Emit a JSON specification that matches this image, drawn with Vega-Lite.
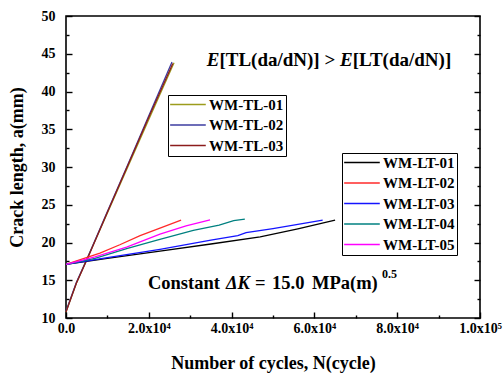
{
  "$schema": "https://vega.github.io/schema/vega-lite/v6.json",
  "width": 414,
  "height": 302,
  "autosize": {"type": "none"},
  "padding": {"left": 66, "top": 16, "right": 23, "bottom": 56},
  "background": "white",
  "config": {
    "view": {"stroke": "black", "strokeWidth": 1.6},
    "axis": {
      "grid": false,
      "domain": false,
      "labelFont": "Liberation Serif",
      "labelFontWeight": "bold",
      "labelFontSize": 14,
      "labelColor": "black",
      "titleFont": "Liberation Serif",
      "titleFontWeight": "bold",
      "titleFontSize": 18,
      "titleColor": "black",
      "tickColor": "black",
      "tickWidth": 1.4,
      "labelFlush": false,
      "labelOverlap": false
    },
    "legend": {
      "orient": "none",
      "title": null,
      "symbolType": "M-1.3,0H5",
      "symbolSize": 128,
      "symbolStrokeWidth": 1.5,
      "labelFont": "Liberation Serif",
      "labelFontSize": 15,
      "labelFontWeight": "bold",
      "labelColor": "black",
      "strokeColor": "black",
      "fillColor": "white",
      "padding": 2,
      "rowPadding": 4.5,
      "labelOffset": 24
    }
  },
  "datasets": {
    "tl": [
      {"series": "WM-TL-01", "N": 0, "a": 10.8},
      {"series": "WM-TL-01", "N": 2500, "a": 14.6},
      {"series": "WM-TL-01", "N": 5300, "a": 18.1},
      {"series": "WM-TL-01", "N": 10000, "a": 23.9},
      {"series": "WM-TL-01", "N": 15000, "a": 30.1},
      {"series": "WM-TL-01", "N": 20000, "a": 36.3},
      {"series": "WM-TL-01", "N": 26100, "a": 43.8},
      {"series": "WM-TL-02", "N": 0, "a": 10.9},
      {"series": "WM-TL-02", "N": 2500, "a": 14.7},
      {"series": "WM-TL-02", "N": 5300, "a": 18.1},
      {"series": "WM-TL-02", "N": 10000, "a": 24.1},
      {"series": "WM-TL-02", "N": 15000, "a": 30.4},
      {"series": "WM-TL-02", "N": 20000, "a": 36.8},
      {"series": "WM-TL-02", "N": 25600, "a": 43.9},
      {"series": "WM-TL-03", "N": 0, "a": 10.8},
      {"series": "WM-TL-03", "N": 2500, "a": 14.6},
      {"series": "WM-TL-03", "N": 5300, "a": 18.0},
      {"series": "WM-TL-03", "N": 10000, "a": 24.0},
      {"series": "WM-TL-03", "N": 15000, "a": 30.3},
      {"series": "WM-TL-03", "N": 20000, "a": 36.6},
      {"series": "WM-TL-03", "N": 25800, "a": 43.7}
    ],
    "lt": [
      {"series": "WM-LT-01", "N": 0, "a": 17.1},
      {"series": "WM-LT-01", "N": 10000, "a": 17.9},
      {"series": "WM-LT-01", "N": 22700, "a": 18.85},
      {"series": "WM-LT-01", "N": 35000, "a": 19.8},
      {"series": "WM-LT-01", "N": 46900, "a": 20.75},
      {"series": "WM-LT-01", "N": 56000, "a": 21.8},
      {"series": "WM-LT-01", "N": 65000, "a": 22.95},
      {"series": "WM-LT-02", "N": 0, "a": 17.1},
      {"series": "WM-LT-02", "N": 8200, "a": 18.6},
      {"series": "WM-LT-02", "N": 13000, "a": 19.7},
      {"series": "WM-LT-02", "N": 17900, "a": 20.9},
      {"series": "WM-LT-02", "N": 22700, "a": 21.9},
      {"series": "WM-LT-02", "N": 27800, "a": 22.95},
      {"series": "WM-LT-03", "N": 0, "a": 17.1},
      {"series": "WM-LT-03", "N": 10000, "a": 18.0},
      {"series": "WM-LT-03", "N": 22700, "a": 19.1},
      {"series": "WM-LT-03", "N": 35000, "a": 20.3},
      {"series": "WM-LT-03", "N": 41500, "a": 20.9},
      {"series": "WM-LT-03", "N": 43500, "a": 21.3},
      {"series": "WM-LT-03", "N": 50000, "a": 21.85},
      {"series": "WM-LT-03", "N": 56000, "a": 22.4},
      {"series": "WM-LT-03", "N": 62000, "a": 22.95},
      {"series": "WM-LT-04", "N": 0, "a": 17.1},
      {"series": "WM-LT-04", "N": 7000, "a": 17.9},
      {"series": "WM-LT-04", "N": 14650, "a": 19.2},
      {"series": "WM-LT-04", "N": 22000, "a": 20.3},
      {"series": "WM-LT-04", "N": 30750, "a": 21.6},
      {"series": "WM-LT-04", "N": 37000, "a": 22.3},
      {"series": "WM-LT-04", "N": 40500, "a": 22.9},
      {"series": "WM-LT-04", "N": 43200, "a": 23.1},
      {"series": "WM-LT-05", "N": 0, "a": 17.1},
      {"series": "WM-LT-05", "N": 7000, "a": 18.1},
      {"series": "WM-LT-05", "N": 14650, "a": 19.4},
      {"series": "WM-LT-05", "N": 22700, "a": 21.1},
      {"series": "WM-LT-05", "N": 29000, "a": 22.2},
      {"series": "WM-LT-05", "N": 34800, "a": 23.0}
    ],
    "notes": [
      {"role": "headItalic", "N": 33990, "a": 43.34, "t": "E"},
      {"role": "headBold", "N": 37050, "a": 43.34, "t": "[TL(da/dN)] >"},
      {"role": "headItalic", "N": 66180, "a": 43.34, "t": "E"},
      {"role": "headBold", "N": 69250, "a": 43.34, "t": "[LT(da/dN)]"},
      {"role": "constBold", "N": 19800, "a": 13.9, "t": "Constant"},
      {"role": "constItalic", "N": 38650, "a": 13.9, "t": "ΔK"},
      {"role": "constBold", "N": 45650, "a": 13.9, "t": "="},
      {"role": "constBold", "N": 49760, "a": 13.9, "t": "15.0"},
      {"role": "constBold", "N": 59420, "a": 13.9, "t": "MPa(m)"},
      {"role": "sup", "N": 76330, "a": 15.3, "t": "0.5"}
    ]
  },
  "layer": [
    {
      "data": {"name": "tl"},
      "mark": {"type": "line", "strokeWidth": 1.3},
      "encoding": {
        "x": {"field": "N", "type": "quantitative", "scale": {"domain": [0, 100000], "nice": false, "zero": false},
          "axis": {"orient": "bottom", "values": [0, 20000, 40000, 60000, 80000, 100000],
            "labelExpr": "datum.value == 0 ? '0.0' : (datum.value == 100000 ? '1.0x10⁵' : format(datum.value / 10000, '.1f') + 'x10⁴')",
            "tickSize": -6, "labelPadding": 9, "title": "Number of cycles, N(cycle)", "titleY": 45, "titleBaseline": "middle"}},
        "y": {"field": "a", "type": "quantitative", "scale": {"domain": [10, 50], "nice": false, "zero": false},
          "axis": {"orient": "left", "values": [10, 15, 20, 25, 30, 35, 40, 45, 50], "tickSize": -6, "labelPadding": 17,
            "title": "Crack length, a(mm)", "titleX": -49, "titleBaseline": "middle"}},
        "color": {"field": "series", "type": "nominal",
          "scale": {"domain": ["WM-TL-01", "WM-TL-02", "WM-TL-03"], "range": ["#9c9c1c", "#3c3ca0", "#8c1c1c"]},
          "legend": {"orient": "none", "legendX": 102, "legendY": 79}}
      }
    },
    {
      "data": {"name": "lt"},
      "mark": {"type": "line", "strokeWidth": 1.3},
      "encoding": {
        "x": {"field": "N", "type": "quantitative", "scale": {"domain": [0, 100000], "nice": false, "zero": false}, "axis": null},
        "y": {"field": "a", "type": "quantitative", "scale": {"domain": [10, 50], "nice": false, "zero": false},
          "axis": {"orient": "right", "values": [10, 15, 20, 25, 30, 35, 40, 45, 50], "tickSize": -6, "labels": false, "title": null}},
        "color": {"field": "series", "type": "nominal",
          "scale": {"domain": ["WM-LT-01", "WM-LT-02", "WM-LT-03", "WM-LT-04", "WM-LT-05"], "range": ["#000000", "#ff2a2a", "#1414ff", "#008080", "#ff00ff"]},
          "legend": {"orient": "none", "legendX": 276, "legendY": 137}}
      }
    },
    {
      "data": {"name": "notes"},
      "transform": [{"filter": "datum.role == 'headItalic'"}],
      "mark": {"type": "text", "font": "Liberation Serif", "fontWeight": "bold", "fontStyle": "italic", "fontSize": 19, "align": "left", "baseline": "alphabetic", "color": "black"},
      "encoding": {
        "x": {"field": "N", "type": "quantitative", "scale": {"domain": [0, 100000], "nice": false, "zero": false},
          "axis": {"orient": "bottom", "values": [10000, 30000, 50000, 70000, 90000], "tickSize": -3, "labels": false, "title": null}},
        "y": {"field": "a", "type": "quantitative", "scale": {"domain": [10, 50], "nice": false, "zero": false},
          "axis": {"orient": "left", "values": [12.5, 17.5, 22.5, 27.5, 32.5, 37.5, 42.5, 47.5], "tickSize": -3, "labels": false, "title": null}},
        "text": {"field": "t"}
      }
    },
    {
      "data": {"name": "notes"},
      "transform": [{"filter": "datum.role == 'headBold'"}],
      "mark": {"type": "text", "font": "Liberation Serif", "fontWeight": "bold", "fontSize": 19, "align": "left", "baseline": "alphabetic", "color": "black"},
      "encoding": {
        "x": {"field": "N", "type": "quantitative", "scale": {"domain": [0, 100000], "nice": false, "zero": false}, "axis": null},
        "y": {"field": "a", "type": "quantitative", "scale": {"domain": [10, 50], "nice": false, "zero": false},
          "axis": {"orient": "right", "values": [12.5, 17.5, 22.5, 27.5, 32.5, 37.5, 42.5, 47.5], "tickSize": -3, "labels": false, "title": null}},
        "text": {"field": "t"}
      }
    },
    {
      "data": {"name": "notes"},
      "transform": [{"filter": "datum.role == 'constBold'"}],
      "mark": {"type": "text", "font": "Liberation Serif", "fontWeight": "bold", "fontSize": 18.5, "align": "left", "baseline": "alphabetic", "color": "black"},
      "encoding": {
        "x": {"field": "N", "type": "quantitative", "scale": {"domain": [0, 100000], "nice": false, "zero": false}, "axis": null},
        "y": {"field": "a", "type": "quantitative", "scale": {"domain": [10, 50], "nice": false, "zero": false}, "axis": null},
        "text": {"field": "t"}
      }
    },
    {
      "data": {"name": "notes"},
      "transform": [{"filter": "datum.role == 'constItalic'"}],
      "mark": {"type": "text", "font": "Liberation Serif", "fontWeight": "bold", "fontStyle": "italic", "fontSize": 18.5, "align": "left", "baseline": "alphabetic", "color": "black"},
      "encoding": {
        "x": {"field": "N", "type": "quantitative", "scale": {"domain": [0, 100000], "nice": false, "zero": false}, "axis": null},
        "y": {"field": "a", "type": "quantitative", "scale": {"domain": [10, 50], "nice": false, "zero": false}, "axis": null},
        "text": {"field": "t"}
      }
    },
    {
      "data": {"name": "notes"},
      "transform": [{"filter": "datum.role == 'sup'"}],
      "mark": {"type": "text", "font": "Liberation Serif", "fontWeight": "bold", "fontSize": 12, "align": "left", "baseline": "alphabetic", "color": "black"},
      "encoding": {
        "x": {"field": "N", "type": "quantitative", "scale": {"domain": [0, 100000], "nice": false, "zero": false}, "axis": null},
        "y": {"field": "a", "type": "quantitative", "scale": {"domain": [10, 50], "nice": false, "zero": false}, "axis": null},
        "text": {"field": "t"}
      }
    }
  ],
  "resolve": {"axis": {"x": "independent", "y": "independent"}, "scale": {"color": "independent"}}
}
